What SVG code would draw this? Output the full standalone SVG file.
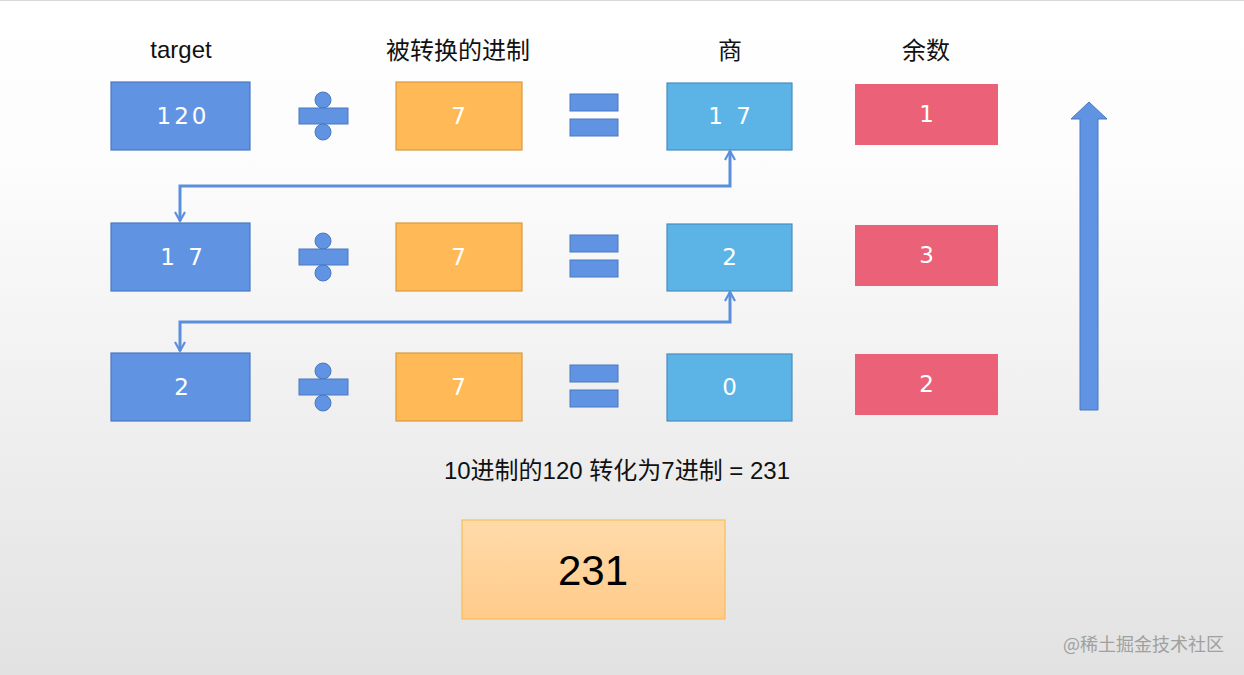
<svg xmlns="http://www.w3.org/2000/svg" width="1244" height="675" viewBox="0 0 1244 675">
<defs>
<linearGradient id="bg" x1="0" y1="0" x2="0" y2="1">
<stop offset="0" stop-color="#FFFFFF"/>
<stop offset="0.25" stop-color="#FCFCFC"/>
<stop offset="1" stop-color="#E2E2E2"/>
</linearGradient>
<linearGradient id="res" x1="0" y1="0" x2="0" y2="1">
<stop offset="0" stop-color="#FFDBAA"/>
<stop offset="1" stop-color="#FFCB8A"/>
</linearGradient>
<marker id="ah" viewBox="0 0 12 12" refX="10" refY="6" markerWidth="12" markerHeight="12" markerUnits="userSpaceOnUse" orient="auto-start-reverse">
<path d="M1,1 L10,6 L1,11" fill="none" stroke="#5B8FDC" stroke-width="2.2"/>
</marker>
</defs>
<style>
.hdr{font-family:"Liberation Sans","Noto Sans CJK SC",sans-serif;font-size:24px;fill:#111;text-anchor:middle}
.num{font-family:"DejaVu Sans","Liberation Sans",sans-serif;font-size:23px;fill:#FFFFFF;text-anchor:middle;letter-spacing:3px}
.tgt{fill:#6094E3;stroke:#4A78C0;stroke-width:1.2}
.base{fill:#FFB957;stroke:#D89A3D;stroke-width:1.2}
.quo{fill:#5CB4E6;stroke:#4A8DC0;stroke-width:1.2}
.rem{fill:#EB6177}
.op{fill:#6094E3;stroke:#4A78C0;stroke-width:1}
.conn{fill:none;stroke:#5B8FDC;stroke-width:3}
</style>
<rect x="0" y="0" width="1244" height="675" fill="url(#bg)"/>
<line x1="0" y1="0.5" x2="1244" y2="0.5" stroke="#D8D8D8"/>

<g id="headers">
<text class="hdr" x="181" y="58">target</text>
<text class="hdr" x="458" y="59">被转换的进制</text>
<text class="hdr" x="730" y="59">商</text>
<text class="hdr" x="926" y="59">余数</text>
</g>

<g id="row1-target"><rect class="tgt" x="111" y="82" width="139" height="68"/><text class="num" x="183" y="124">120</text></g>
<g id="row1-div"><circle class="op" cx="323" cy="100" r="8"/><rect class="op" x="299" y="108" width="49" height="16"/><circle class="op" cx="323" cy="132" r="8"/></g>
<g id="row1-base"><rect class="base" x="396" y="82" width="126" height="68"/><text class="num" x="460" y="124">7</text></g>
<g id="row1-eq"><rect class="op" x="570" y="94" width="48" height="17"/><rect class="op" x="570" y="119" width="48" height="17"/></g>
<g id="row1-quo"><rect class="quo" x="667" y="83" width="125" height="67"/><text class="num" x="731" y="124">1 7</text></g>
<g id="row1-rem"><rect class="rem" x="855" y="84" width="143" height="61"/><text class="num" x="928" y="122">1</text></g>

<g id="row2-target"><rect class="tgt" x="111" y="223" width="139" height="68"/><text class="num" x="183" y="265">1 7</text></g>
<g id="row2-div"><circle class="op" cx="323" cy="241" r="8"/><rect class="op" x="299" y="249" width="49" height="16"/><circle class="op" cx="323" cy="273" r="8"/></g>
<g id="row2-base"><rect class="base" x="396" y="223" width="126" height="68"/><text class="num" x="460" y="265">7</text></g>
<g id="row2-eq"><rect class="op" x="570" y="235" width="48" height="17"/><rect class="op" x="570" y="260" width="48" height="17"/></g>
<g id="row2-quo"><rect class="quo" x="667" y="224" width="125" height="67"/><text class="num" x="731" y="265">2</text></g>
<g id="row2-rem"><rect class="rem" x="855" y="225" width="143" height="61"/><text class="num" x="928" y="263">3</text></g>

<g id="row3-target"><rect class="tgt" x="111" y="353" width="139" height="68"/><text class="num" x="183" y="395">2</text></g>
<g id="row3-div"><circle class="op" cx="323" cy="371" r="8"/><rect class="op" x="299" y="379" width="49" height="16"/><circle class="op" cx="323" cy="403" r="8"/></g>
<g id="row3-base"><rect class="base" x="396" y="353" width="126" height="68"/><text class="num" x="460" y="395">7</text></g>
<g id="row3-eq"><rect class="op" x="570" y="365" width="48" height="17"/><rect class="op" x="570" y="390" width="48" height="17"/></g>
<g id="row3-quo"><rect class="quo" x="667" y="354" width="125" height="67"/><text class="num" x="731" y="395">0</text></g>
<g id="row3-rem"><rect class="rem" x="855" y="354" width="143" height="61"/><text class="num" x="928" y="392">2</text></g>

<g id="connectors">
<path class="conn" d="M730,151 L730,186 L180,186 L180,221" marker-start="url(#ah)" marker-end="url(#ah)"/>
<path class="conn" d="M730,292 L730,322 L180,322 L180,351" marker-start="url(#ah)" marker-end="url(#ah)"/>
</g>

<g id="up-arrow">
<path d="M1080,410 L1080,119 L1071,119 L1089,102 L1107,119 L1098,119 L1098,410 Z" fill="#6094E3" stroke="#4A78C0" stroke-width="1"/>
</g>

<g id="summary">
<text x="617" y="479" font-family="Liberation Sans,Noto Sans CJK SC,sans-serif" font-size="24" fill="#111" text-anchor="middle">10进制的120 转化为7进制 = 231</text>
</g>

<g id="result">
<rect x="462" y="520" width="263" height="99" fill="url(#res)" stroke="#F5BE5A" stroke-width="1.2"/>
<text x="593" y="585" font-family="Liberation Sans,sans-serif" font-size="42" fill="#000" text-anchor="middle">231</text>
</g>

<text x="1224" y="651" font-family="Noto Sans CJK SC,sans-serif" font-size="18" fill="#A0A0A0" text-anchor="end">@稀土掘金技术社区</text>
</svg>
